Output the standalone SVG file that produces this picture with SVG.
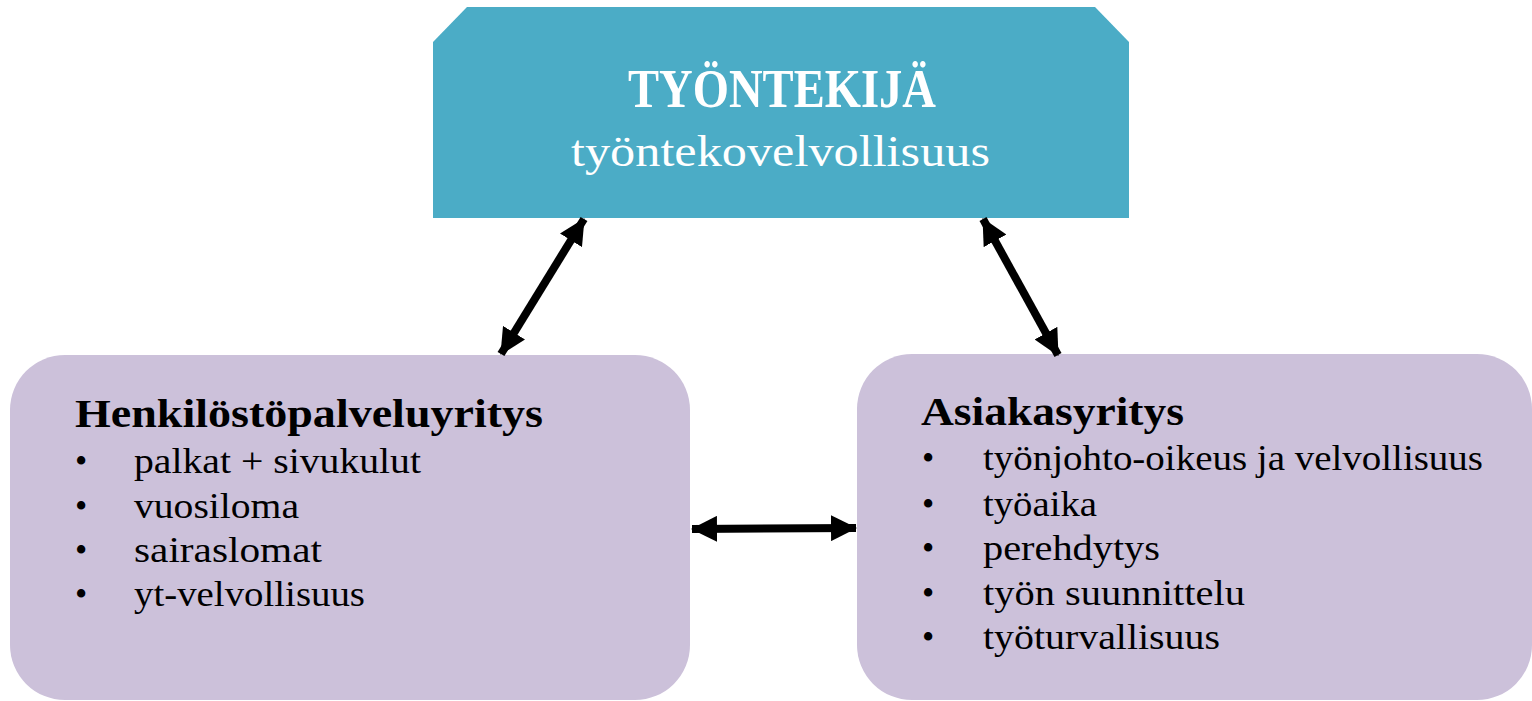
<svg xmlns="http://www.w3.org/2000/svg" width="1532" height="701" viewBox="0 0 1532 701">
  <style>
    .t { font-family: "Liberation Serif", "Times New Roman", serif; }
    .item { font-size: 35px; fill: #000; }
    .head { font-size: 41px; font-weight: bold; fill: #000; }
    .box { fill: #CCC1DA; }
    .conn { stroke: #000; stroke-width: 8; fill: none; }
  </style>
  <defs>
    <marker id="ah" viewBox="0 0 26 26" refX="25" refY="13" markerWidth="26" markerHeight="26" markerUnits="userSpaceOnUse" orient="auto-start-reverse">
      <path d="M0,0 L26,13 L0,26 Z" fill="#000"/>
    </marker>
  </defs>
  <rect width="1532" height="701" fill="#fff"/>

  <g id="tyontekija">
    <path d="M467,7 L1095,7 L1129,42 L1129,218 L433,218 L433,42 Z" fill="#4BACC6"/>
    <text class="t" x="628" y="107" font-size="54" font-weight="bold" fill="#fff" textLength="308" lengthAdjust="spacingAndGlyphs">TYÖNTEKIJÄ</text>
    <text class="t" x="571" y="166" font-size="45" fill="#fff" textLength="419" lengthAdjust="spacingAndGlyphs">työntekovelvollisuus</text>
  </g>

  <g id="henkilostopalveluyritys">
    <rect class="box" x="10" y="355" width="680" height="345" rx="55" ry="55"/>
    <text class="t head" x="75" y="427" textLength="468" lengthAdjust="spacingAndGlyphs">Henkilöstöpalveluyritys</text>
    <text class="t item" x="75" y="473">•</text>
    <text class="t item" x="134" y="473" textLength="287" lengthAdjust="spacingAndGlyphs">palkat + sivukulut</text>
    <text class="t item" x="75" y="518">•</text>
    <text class="t item" x="134" y="518" textLength="165" lengthAdjust="spacingAndGlyphs">vuosiloma</text>
    <text class="t item" x="75" y="562">•</text>
    <text class="t item" x="134" y="562" textLength="188" lengthAdjust="spacingAndGlyphs">sairaslomat</text>
    <text class="t item" x="75" y="606">•</text>
    <text class="t item" x="134" y="606" textLength="231" lengthAdjust="spacingAndGlyphs">yt-velvollisuus</text>
  </g>

  <g id="asiakasyritys">
    <rect class="box" x="857" y="354" width="675" height="346" rx="55" ry="55"/>
    <text class="t head" x="921" y="425" textLength="263" lengthAdjust="spacingAndGlyphs">Asiakasyritys</text>
    <text class="t item" x="922" y="470">•</text>
    <text class="t item" x="983" y="470" textLength="500" lengthAdjust="spacingAndGlyphs">työnjohto-oikeus ja velvollisuus</text>
    <text class="t item" x="922" y="516">•</text>
    <text class="t item" x="983" y="516" textLength="114" lengthAdjust="spacingAndGlyphs">työaika</text>
    <text class="t item" x="922" y="560">•</text>
    <text class="t item" x="983" y="560" textLength="177" lengthAdjust="spacingAndGlyphs">perehdytys</text>
    <text class="t item" x="922" y="605">•</text>
    <text class="t item" x="983" y="605" textLength="262" lengthAdjust="spacingAndGlyphs">työn suunnittelu</text>
    <text class="t item" x="922" y="649">•</text>
    <text class="t item" x="983" y="649" textLength="237" lengthAdjust="spacingAndGlyphs">työturvallisuus</text>
  </g>

  <g id="connectors">
    <line class="conn" x1="584" y1="219" x2="501" y2="354" marker-start="url(#ah)" marker-end="url(#ah)"/>
    <line class="conn" x1="983" y1="219" x2="1058" y2="355" marker-start="url(#ah)" marker-end="url(#ah)"/>
    <line class="conn" x1="692" y1="529" x2="856" y2="528" marker-start="url(#ah)" marker-end="url(#ah)"/>
  </g>
</svg>
